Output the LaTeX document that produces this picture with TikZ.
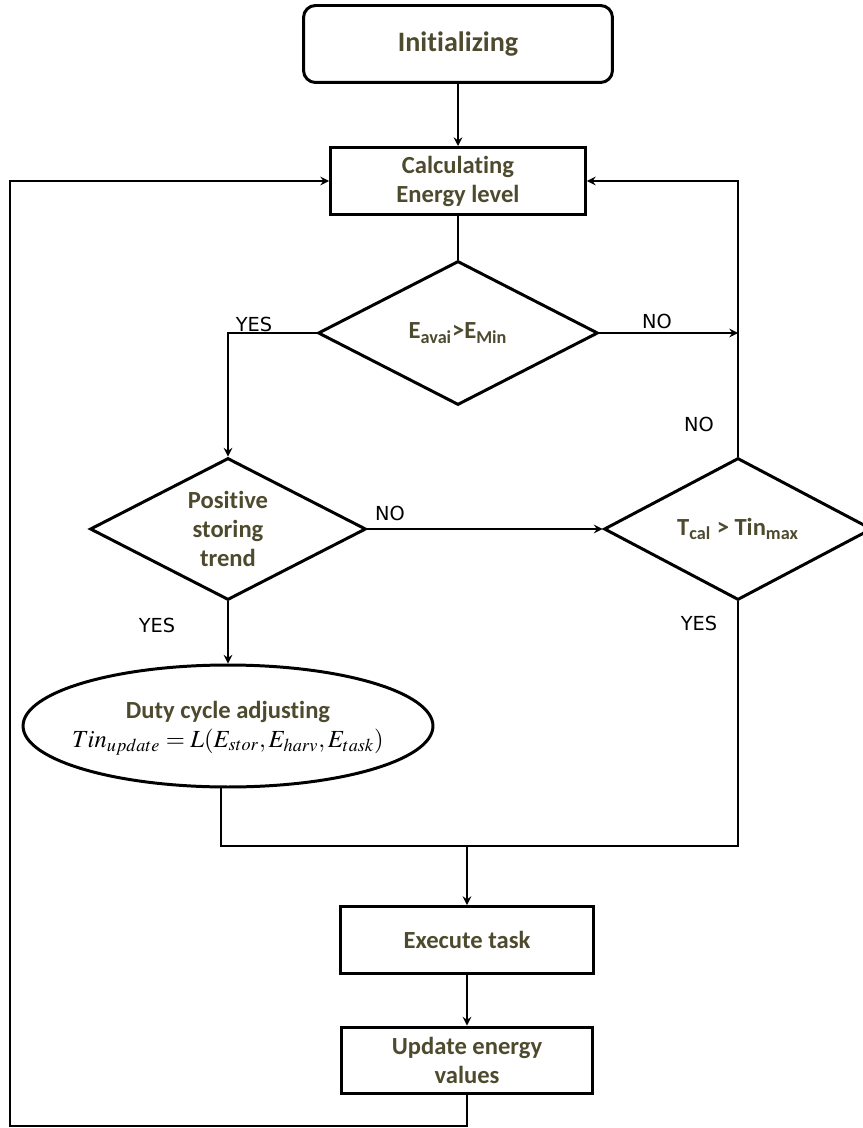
\documentclass[tikz,border=0pt]{standalone}
\usepackage{mathptmx}
\usepackage[no-math]{fontspec}
\setmainfont[Ligatures=NoCommon]{Carlito}
\newfontfamily\lblfont{DejaVu Sans}
\usepackage{xcolor}
\definecolor{boxtext}{HTML}{4D4A2E}
\usepackage{tikz}
\usetikzlibrary{arrows.meta}
\usetikzlibrary{shapes.geometric}

\begin{document}
\begin{tikzpicture}[x=0.02cm,y=-0.02cm,
    every node/.style={font=\bfseries\fontsize{14}{16.5}\selectfont,text=boxtext,align=center},
    box/.style={draw=black,line width=1.7pt,inner sep=0pt},
    test/.style={draw=black,diamond,line width=1.7pt,inner sep=0pt,aspect=1.9},
    flow/.style={line width=1.2pt,-{Stealth[length=5pt,width=5pt,inset=1.8pt]}},
    wire/.style={line width=1.2pt},
    lbl/.style={font=\lblfont\fontsize{11}{13}\selectfont,text=black}]
  \useasboundingbox (0,0) rectangle (862,1128);

  % boxes
  \node[box,rounded corners=0.24cm,minimum width=6.18cm,minimum height=1.54cm,
        font=\bfseries\fontsize{16}{19}\selectfont](init) at (458,44) {Initializing};
  \node[box,minimum width=5.1cm,minimum height=1.34cm](calc) at (458,181) {Calculating\\Energy level};
  \node[test,minimum width=5.6cm,minimum height=2.88cm](enough) at (458,333)
        {E\textsubscript{avai}>E\textsubscript{Min}};
  \node[test,minimum width=5.52cm,minimum height=2.84cm](trend) at (228,529)
        {Positive\\storing\\trend};
  \node[test,minimum width=5.36cm,minimum height=2.84cm](tmax) at (738,529)
        {T\textsubscript{cal} > Tin\textsubscript{max}};
  \node[draw=black,ellipse,line width=1.7pt,minimum width=8.2cm,minimum height=2.44cm](duty) at (228,726) {};
  \node(dutytxt) at (228,728) {Duty cycle adjusting\\[0pt]
        {\fontsize{14}{16}\selectfont\mdseries\color{black}%
        $Tin_{update}=L(E_{stor},E_{harv},E_{task})$}};
  \node[box,minimum width=5.06cm,minimum height=1.34cm](exec) at (467,940) {Execute task};
  \node[box,minimum width=5.02cm,minimum height=1.32cm](upd) at (467,1060) {Update energy\\values};

  \coordinate(join) at (467,846);
  \coordinate(back) at (10,1126);
  \coordinate(dutyout) at ([xshift=-0.14cm]duty.south);

  % connectors
  \draw[flow] (init) -- (calc);
  \draw[wire] (calc) -- (enough);
  \draw[flow] (enough.west) -| (trend.north);
  \draw[flow] (enough.east) -- (enough.east -| tmax.north);
  \draw[flow] (tmax.north) |- (calc.east);
  \draw[flow] (trend.east) -- (tmax.west);
  \draw[flow] (trend.south) -- (duty.north);
  \draw[wire] (dutyout) -- (dutyout |- join) -- (tmax.south |- join) -- (tmax.south);
  \draw[flow] (join) -- (exec);
  \draw[flow] (exec) -- (upd);
  \draw[flow] (upd.south) |- (back) |- (calc.west);

  % branch labels
  \node[lbl](yes1) at (254,324) {YES};
  \node[lbl](no1) at (657,321) {NO};
  \node[lbl](no2) at (699,424) {NO};
  \node[lbl](no3) at (390,513) {NO};
  \node[lbl](yes2) at (157,625) {YES};
  \node[lbl](yes3) at (699,623) {YES};
\end{tikzpicture}
\end{document}
